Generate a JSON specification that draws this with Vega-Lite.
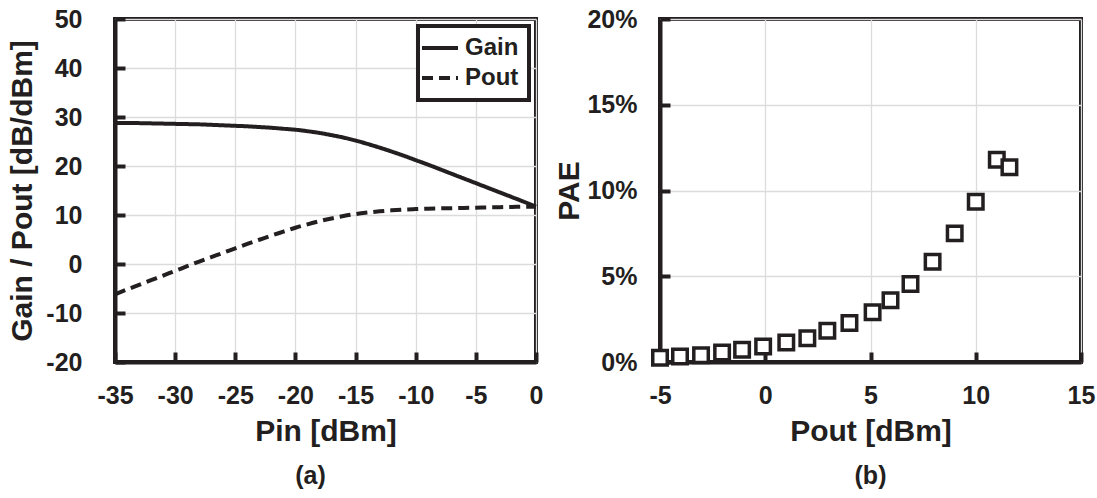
{
  "$schema": "https://vega.github.io/schema/vega-lite/v6.json",
  "background": "white",
  "padding": {"left": 5, "top": 5, "right": 5, "bottom": 5},
  "spacing": 6,
  "resolve": {"legend": {"strokeDash": "independent"}},
  "datasets": {
    "sweep": [
      {"pin": -35, "gain": 28.8, "pout": -6.2},
      {"pin": -34, "gain": 28.8, "pout": -5.2},
      {"pin": -33, "gain": 28.75, "pout": -4.25},
      {"pin": -32, "gain": 28.7, "pout": -3.3},
      {"pin": -31, "gain": 28.65, "pout": -2.35},
      {"pin": -30, "gain": 28.6, "pout": -1.4},
      {"pin": -29, "gain": 28.55, "pout": -0.45},
      {"pin": -28, "gain": 28.5, "pout": 0.5},
      {"pin": -27, "gain": 28.4, "pout": 1.4},
      {"pin": -26, "gain": 28.3, "pout": 2.3},
      {"pin": -25, "gain": 28.2, "pout": 3.2},
      {"pin": -24, "gain": 28.1, "pout": 4.1},
      {"pin": -23, "gain": 27.95, "pout": 4.95},
      {"pin": -22, "gain": 27.8, "pout": 5.8},
      {"pin": -21, "gain": 27.6, "pout": 6.6},
      {"pin": -20, "gain": 27.4, "pout": 7.4},
      {"pin": -19, "gain": 27.1, "pout": 8.1},
      {"pin": -18, "gain": 26.75, "pout": 8.75},
      {"pin": -17, "gain": 26.3, "pout": 9.3},
      {"pin": -16, "gain": 25.8, "pout": 9.8},
      {"pin": -15, "gain": 25.2, "pout": 10.2},
      {"pin": -14, "gain": 24.5, "pout": 10.5},
      {"pin": -13, "gain": 23.75, "pout": 10.75},
      {"pin": -12, "gain": 22.95, "pout": 10.95},
      {"pin": -11, "gain": 22.1, "pout": 11.1},
      {"pin": -10, "gain": 21.2, "pout": 11.2},
      {"pin": -9, "gain": 20.3, "pout": 11.3},
      {"pin": -8, "gain": 19.35, "pout": 11.35},
      {"pin": -7, "gain": 18.4, "pout": 11.4},
      {"pin": -6, "gain": 17.45, "pout": 11.45},
      {"pin": -5, "gain": 16.5, "pout": 11.5},
      {"pin": -4, "gain": 15.55, "pout": 11.55},
      {"pin": -3, "gain": 14.6, "pout": 11.6},
      {"pin": -2, "gain": 13.65, "pout": 11.65},
      {"pin": -1, "gain": 12.7, "pout": 11.7},
      {"pin": 0, "gain": 11.7, "pout": 11.7}
    ],
    "pae": [
      {"pout": -5.0, "pae": 0.0025},
      {"pout": -4.05, "pae": 0.0032},
      {"pout": -3.05, "pae": 0.004},
      {"pout": -2.05, "pae": 0.0055},
      {"pout": -1.1, "pae": 0.0072},
      {"pout": -0.1, "pae": 0.009},
      {"pout": 1.0, "pae": 0.0113},
      {"pout": 2.0, "pae": 0.0138},
      {"pout": 2.95, "pae": 0.0182},
      {"pout": 4.0, "pae": 0.0228},
      {"pout": 5.1, "pae": 0.029},
      {"pout": 5.95, "pae": 0.036},
      {"pout": 6.9, "pae": 0.0455},
      {"pout": 7.95, "pae": 0.0585},
      {"pout": 9.0, "pae": 0.075},
      {"pout": 10.0, "pae": 0.0935},
      {"pout": 11.0, "pae": 0.118},
      {"pout": 11.6, "pae": 0.1135}
    ]
  },
  "hconcat": [
    {
      "width": 421,
      "height": 343,
      "title": {"text": "(a)", "orient": "bottom", "frame": "group", "dx": -15, "offset": 18},
      "data": {"name": "sweep"},
      "transform": [
        {"fold": ["gain", "pout"], "as": ["key", "value"]},
        {"calculate": "datum.key === 'gain' ? 'Gain' : 'Pout'", "as": "series"}
      ],
      "mark": {"type": "line", "strokeWidth": 4, "color": "#231f20", "interpolate": "monotone"},
      "encoding": {
        "x": {
          "field": "pin", "type": "quantitative", "title": "Pin [dBm]",
          "scale": {"domain": [-35, 0], "nice": false, "zero": false},
          "axis": {"values": [-35, -30, -25, -20, -15, -10, -5, 0], "ticks": true, "tickColor": "#231f20", "labelPadding": 31, "tickSize": -10, "labelExpr": "replace(datum.label, '−', '-')"}
        },
        "y": {
          "field": "value", "type": "quantitative", "title": "Gain / Pout [dB/dBm]",
          "scale": {"domain": [-20, 50], "nice": false, "zero": false},
          "axis": {"values": [-20, -10, 0, 10, 20, 30, 40, 50], "ticks": true, "tickColor": "#231f20", "labelPadding": 43, "tickSize": -10, "labelExpr": "replace(datum.label, '−', '-')"}
        },
        "strokeDash": {
          "field": "series", "type": "nominal",
          "scale": {"domain": ["Gain", "Pout"], "range": [[1, 0], [11, 6]]},
          "legend": {
            "title": null,
            "orient": "top-right",
            "offset": 7,
            "padding": 10,
            "symbolType": "M-1.8,0H1.8",
            "symbolSize": 400,
            "symbolStrokeWidth": 4,
            "symbolStrokeColor": "#231f20",
            "labelFontSize": 24,
            "labelOffset": 13,
            "rowPadding": 6,
            "fillColor": "white",
            "strokeColor": "#231f20",
            "encode": {"legend": {"update": {"strokeWidth": {"value": 4}}}}
          }
        }
      }
    },
    {
      "width": 421,
      "height": 343,
      "title": {"text": "(b)", "orient": "bottom", "frame": "group", "offset": 18},
      "data": {"name": "pae"},
      "mark": {"type": "point", "shape": "square", "size": 210, "filled": true, "fill": "white", "stroke": "#231f20", "strokeWidth": 3.5, "opacity": 1},
      "encoding": {
        "x": {
          "field": "pout", "type": "quantitative", "title": "Pout [dBm]",
          "scale": {"domain": [-5, 15], "nice": false, "zero": false},
          "axis": {"values": [-5, 0, 5, 10, 15], "ticks": true, "tickColor": "#231f20", "labelPadding": 31, "tickSize": -10, "labelExpr": "replace(datum.label, '−', '-')"}
        },
        "y": {
          "field": "pae", "type": "quantitative", "title": "PAE",
          "scale": {"domain": [0, 0.2], "nice": false},
          "axis": {"values": [0, 0.05, 0.1, 0.15, 0.2], "ticks": true, "tickColor": "#231f20", "format": ".0%", "labelPadding": 33, "tickSize": -10, "titlePadding": 2}
        }
      }
    }
  ],
  "config": {
    "font": "Liberation Sans",
    "view": {"stroke": "#231f20", "strokeWidth": 4},
    "axis": {
      "domainColor": "#231f20",
      "domainWidth": 4,
      "tickWidth": 4,
      "gridColor": "#dcdcdc",
      "gridWidth": 1.3,
      "labelFont": "Liberation Sans",
      "labelFontWeight": "bold",
      "labelFontSize": 25,
      "labelColor": "#231f20",
      "labelFlush": false,
      "labelOverlap": false,
      "titleFont": "Liberation Sans",
      "titleFontWeight": "bold",
      "titleFontSize": 30,
      "titleColor": "#231f20",
      "titlePadding": 8
    },
    "legend": {
      "labelFont": "Liberation Sans",
      "labelFontWeight": "bold",
      "labelColor": "#231f20"
    },
    "title": {
      "font": "Liberation Sans",
      "fontWeight": "bold",
      "fontSize": 25,
      "color": "#231f20"
    }
  }
}
